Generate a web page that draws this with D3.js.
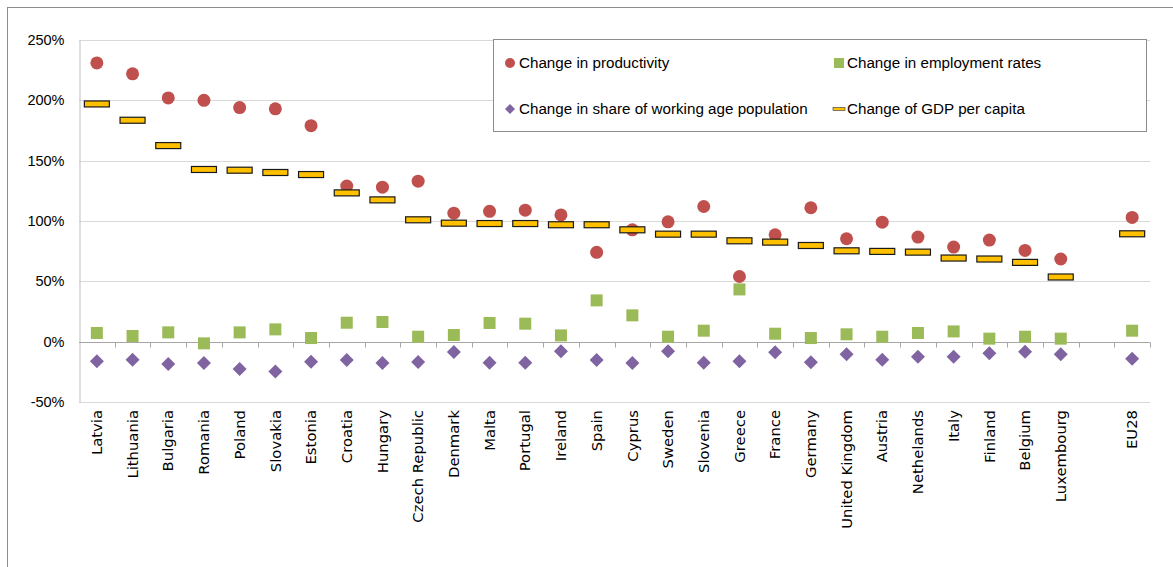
<!DOCTYPE html>
<html>
<head>
<meta charset="utf-8">
<script src="https://cdn.jsdelivr.net/npm/d3@7"></script>
<style>
  html, body { margin: 0; padding: 0; background: #fff; }
  svg { display: block; }
</style>
</head>
<body>
<svg id="chart" width="1173" height="567"></svg>
<script>
// ---- data ----
const categories = ["Latvia","Lithuania","Bulgaria","Romania","Poland","Slovakia","Estonia","Croatia","Hungary","Czech Republic","Denmark","Malta","Portugal","Ireland","Spain","Cyprus","Sweden","Slovenia","Greece","France","Germany","United Kingdom","Austria","Nethelands","Italy","Finland","Belgium","Luxembourg","","EU28"];
const productivity = [231,222,202,200,194,193,179,129,128,133,106.5,108,109,105,74,92.7,99.3,112,54,88.6,111,85.3,99,86.7,78.4,84.2,75.6,68.5,null,103];
const employment = [7.2,4.7,7.7,-1.4,7.7,10.2,3,15.7,16.3,4.1,5.5,15.5,14.9,5.2,34.2,21.8,4.1,9.1,43.3,6.6,3,6.1,4.1,7.2,8.5,2.5,4.1,2.5,null,9.1];
const workingAge = [-16.3,-14.9,-18.5,-17.7,-22.6,-24.8,-16.6,-15.2,-17.7,-16.9,-8.6,-17.4,-17.4,-8,-15.2,-17.7,-8,-17.4,-16.3,-8.8,-17.1,-10.5,-14.9,-12.4,-12.4,-9.7,-8.3,-10.5,null,-14.1];
const gdpPerCapita = [197,183.5,162.5,142.7,142.1,140.2,138.5,123.3,117.5,101,98.2,97.9,97.9,96.9,96.9,92.7,89.1,89.1,83.6,82.5,79.7,75.3,74.8,74.2,69.3,68.5,65.7,53.6,null,89.4];
const yTicks = [-50,0,50,100,150,200,250];
const legendLabels = ["Change in productivity","Change in employment rates","Change in share of working age population","Change of GDP per capita"];

(function () {
  const svg = d3.select("#chart");
  const pl = 79, pr = 1150, pt = 40, pb = 402;
  const x = d3.scaleBand().domain(d3.range(categories.length)).range([pl, pr]).padding(0);
  const y = d3.scaleLinear().domain([-50, 250]).range([pb, pt]);
  const cx = i => x(i) + x.bandwidth() / 2;
  const font = "'Liberation Sans', Arial, sans-serif";

  // outer frame
  svg.append("rect").attr("x", 7.5).attr("y", 7.5).attr("width", 1300).attr("height", 700)
    .attr("fill", "#fff").attr("stroke", "#8c8c8c").attr("stroke-width", 1);

  // gridlines
  svg.append("g").selectAll("line").data(yTicks.filter(d => d !== 0)).join("line")
    .attr("x1", pl).attr("x2", pr)
    .attr("y1", d => Math.round(y(d)) + 0.5).attr("y2", d => Math.round(y(d)) + 0.5)
    .attr("stroke", "#d9d9d9").attr("stroke-width", 1);

  // legend box (over gridlines)
  const lg = svg.append("g");
  lg.append("rect").attr("x", 493.5).attr("y", 39.5).attr("width", 653).attr("height", 92)
    .attr("fill", "#fff").attr("stroke", "#8c8c8c");

  // y axis
  const yAxis = d3.axisLeft(y).tickValues(yTicks).tickFormat(d => d + "%").tickSize(0).tickPadding(15);
  const gy = svg.append("g").attr("transform", `translate(${pl + 0.5},0)`).call(yAxis);
  gy.select(".domain").attr("stroke", "#bfbfbf");
  gy.selectAll("text").attr("font-family", font).attr("font-size", 14.5).attr("fill", "#000");

  // zero axis with category ticks
  const y0 = Math.round(y(0)) + 0.5;
  svg.append("line").attr("x1", pl).attr("x2", pr).attr("y1", y0).attr("y2", y0)
    .attr("stroke", "#a6a6a6").attr("stroke-width", 1);
  svg.append("g").selectAll("line").data(d3.range(1, categories.length + 1)).join("line")
    .attr("x1", i => Math.round(x(0) + i * x.bandwidth()) + 0.5)
    .attr("x2", i => Math.round(x(0) + i * x.bandwidth()) + 0.5)
    .attr("y1", y0).attr("y2", y0 + 5)
    .attr("stroke", "#a6a6a6");

  // category labels
  svg.append("g").selectAll("text").data(categories).join("text")
    .attr("transform", (d, i) => `translate(${cx(i)},410) rotate(-90)`)
    .attr("text-anchor", "end").attr("dy", "0.35em")
    .attr("font-family", "'DejaVu Sans', Verdana, sans-serif").attr("font-size", 14.8)
    .attr("fill", "#000")
    .text(d => d);

  // marks
  const idx = d3.range(categories.length);
  svg.append("g").selectAll("circle").data(idx.filter(i => productivity[i] != null)).join("circle")
    .attr("cx", cx).attr("cy", i => y(productivity[i])).attr("r", 6.5).attr("fill", "#C0504D");
  svg.append("g").selectAll("rect").data(idx.filter(i => employment[i] != null)).join("rect")
    .attr("x", i => cx(i) - 6).attr("y", i => y(employment[i]) - 6).attr("width", 12).attr("height", 12)
    .attr("fill", "#9BBB59");
  svg.append("g").selectAll("path").data(idx.filter(i => workingAge[i] != null)).join("path")
    .attr("d", i => { const X = cx(i), Y = y(workingAge[i]), r = 7; return `M${X},${Y - r}L${X + r},${Y}L${X},${Y + r}L${X - r},${Y}Z`; })
    .attr("fill", "#8064A2");
  svg.append("g").selectAll("rect").data(idx.filter(i => gdpPerCapita[i] != null)).join("rect")
    .attr("x", i => cx(i) - 12.5).attr("y", i => y(gdpPerCapita[i]) - 3).attr("width", 25).attr("height", 6)
    .attr("fill", "#FFC000").attr("stroke", "#1a1a1a").attr("stroke-width", 1.2);

  // legend entries
  const lx1 = 510, lx2 = 839, ly1 = 63, ly2 = 109;
  lg.append("circle").attr("cx", lx1).attr("cy", ly1).attr("r", 5).attr("fill", "#C0504D");
  lg.append("rect").attr("x", lx2 - 5).attr("y", ly1 - 5).attr("width", 10).attr("height", 10).attr("fill", "#9BBB59");
  lg.append("path").attr("d", `M${lx1},${ly2 - 5}L${lx1 + 5},${ly2}L${lx1},${ly2 + 5}L${lx1 - 5},${ly2}Z`).attr("fill", "#8064A2");
  lg.append("rect").attr("x", lx2 - 6).attr("y", ly2 - 1.5).attr("width", 12).attr("height", 3)
    .attr("fill", "#FFC000").attr("stroke", "#333").attr("stroke-width", 0.6);
  const legPos = [[lx1 + 9, ly1], [lx2 + 8, ly1], [lx1 + 9, ly2], [lx2 + 8, ly2]];
  lg.selectAll("text.leg").data(legendLabels).join("text").attr("class", "leg")
    .attr("x", (d, i) => legPos[i][0]).attr("y", (d, i) => legPos[i][1]).attr("dy", "0.35em")
    .attr("font-family", font).attr("font-size", 15.2).attr("fill", "#000")
    .text(d => d);
})();
</script>
</body>
</html>
